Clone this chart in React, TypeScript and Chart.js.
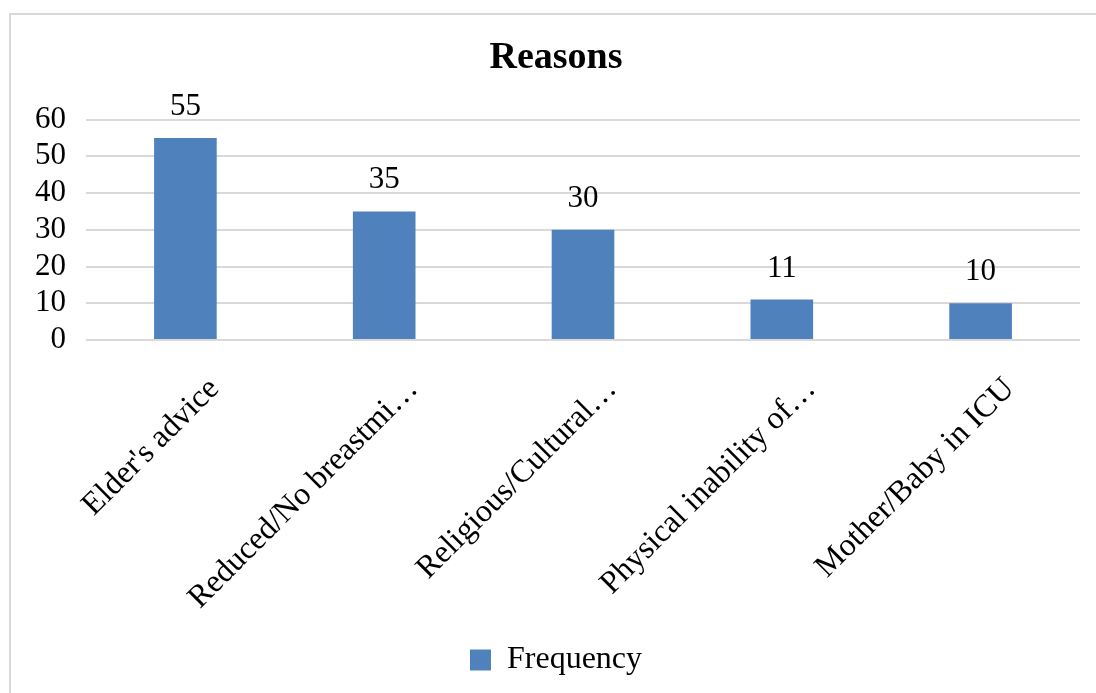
import React, { useEffect, useRef } from "react";
import { Chart, registerables } from "chart.js";

Chart.register(...registerables);

const categories = [
  "Elder's advice",
  "Reduced/No breastmi…",
  "Religious/Cultural…",
  "Physical inability of…",
  "Mother/Baby in ICU",
];
const frequency = [55, 35, 30, 11, 10];
const seriesName = "Frequency";
const chartTitle = "Reasons";

const FONT = "'Liberation Serif', 'Times New Roman', serif";
const BAR_COLOR = "#4F81BD";
const GRID_COLOR = "#D9D9D9";

// Light frame around the chart area, open on the right and bottom edges
const framePlugin = {
  id: "frame",
  beforeDraw(chart: any) {
    const ctx = chart.ctx;
    ctx.save();
    ctx.fillStyle = "#ffffff";
    ctx.fillRect(0, 0, chart.width, chart.height);
    ctx.strokeStyle = GRID_COLOR;
    ctx.lineWidth = 2;
    ctx.beginPath();
    ctx.moveTo(10, chart.height);
    ctx.lineTo(10, 14);
    ctx.lineTo(chart.width, 14);
    ctx.stroke();
    ctx.restore();
  },
};

// Value labels above each bar
const valueLabelPlugin = {
  id: "valueLabels",
  afterDatasetsDraw(chart: any) {
    const ctx = chart.ctx;
    const meta = chart.getDatasetMeta(0);
    const data = chart.data.datasets[0].data as number[];
    ctx.save();
    ctx.font = `31px ${FONT}`;
    ctx.fillStyle = "#000000";
    ctx.textAlign = "center";
    ctx.textBaseline = "alphabetic";
    meta.data.forEach((bar: any, i: number) => {
      ctx.fillText(String(data[i]), bar.x, bar.y - 23);
    });
    ctx.restore();
  },
};

// Category labels, rotated 45° with their right end hanging below each tick
const categoryLabelPlugin = {
  id: "categoryLabels",
  afterDraw(chart: any) {
    const ctx = chart.ctx;
    const xScale = chart.scales.x;
    const labels = chart.data.labels as string[];
    const baseY = chart.chartArea.bottom + 50;
    ctx.save();
    ctx.font = `32px ${FONT}`;
    ctx.fillStyle = "#000000";
    ctx.textAlign = "right";
    ctx.textBaseline = "alphabetic";
    labels.forEach((label, i) => {
      const x = xScale.getPixelForTick(i) + 35;
      ctx.save();
      ctx.translate(x, baseY);
      ctx.rotate(-Math.PI / 4);
      ctx.fillText(label, 0, 0);
      ctx.restore();
    });
    ctx.restore();
  },
};

export default function App() {
  const canvasRef = useRef<HTMLCanvasElement | null>(null);

  useEffect(() => {
    if (!canvasRef.current) return;
    const chart = new Chart(canvasRef.current, {
      type: "bar",
      data: {
        labels: categories,
        datasets: [
          {
            label: seriesName,
            data: frequency,
            backgroundColor: BAR_COLOR,
            borderWidth: 0,
            barPercentage: 0.315,
            categoryPercentage: 1,
          },
        ],
      },
      options: {
        responsive: false,
        animation: false,
        layout: { padding: { top: 14, right: 16, bottom: 7, left: 32 } },
        plugins: {
          title: {
            display: true,
            text: chartTitle,
            color: "#000000",
            font: { family: FONT, size: 38, weight: "bold" },
            padding: { top: 21, bottom: 39 },
          },
          legend: {
            display: true,
            position: "bottom",
            labels: {
              boxWidth: 21,
              boxHeight: 21,
              color: "#000000",
              font: { family: FONT, size: 32 },
              padding: 12,
            },
          },
          tooltip: { enabled: false },
        },
        scales: {
          x: {
            grid: { display: false, drawTicks: false },
            border: { display: false },
            ticks: { display: false, autoSkip: false },
            afterFit(scale: any) {
              scale.height = 292;
            },
          },
          y: {
            min: 0,
            max: 60,
            grid: { color: GRID_COLOR, lineWidth: 2, drawTicks: false },
            border: { display: false },
            ticks: {
              stepSize: 10,
              autoSkip: false,
              color: "#000000",
              font: { family: FONT, size: 31 },
              padding: 20,
            },
            afterFit(scale: any) {
              scale.width = 54;
            },
          },
        },
      },
      plugins: [framePlugin, valueLabelPlugin, categoryLabelPlugin],
    });
    return () => chart.destroy();
  }, []);

  return (
    <div style={{ position: "fixed", left: 0, top: 0, width: 1096, height: 693 }}>
      <canvas ref={canvasRef} width={1096} height={693} />
    </div>
  );
}
